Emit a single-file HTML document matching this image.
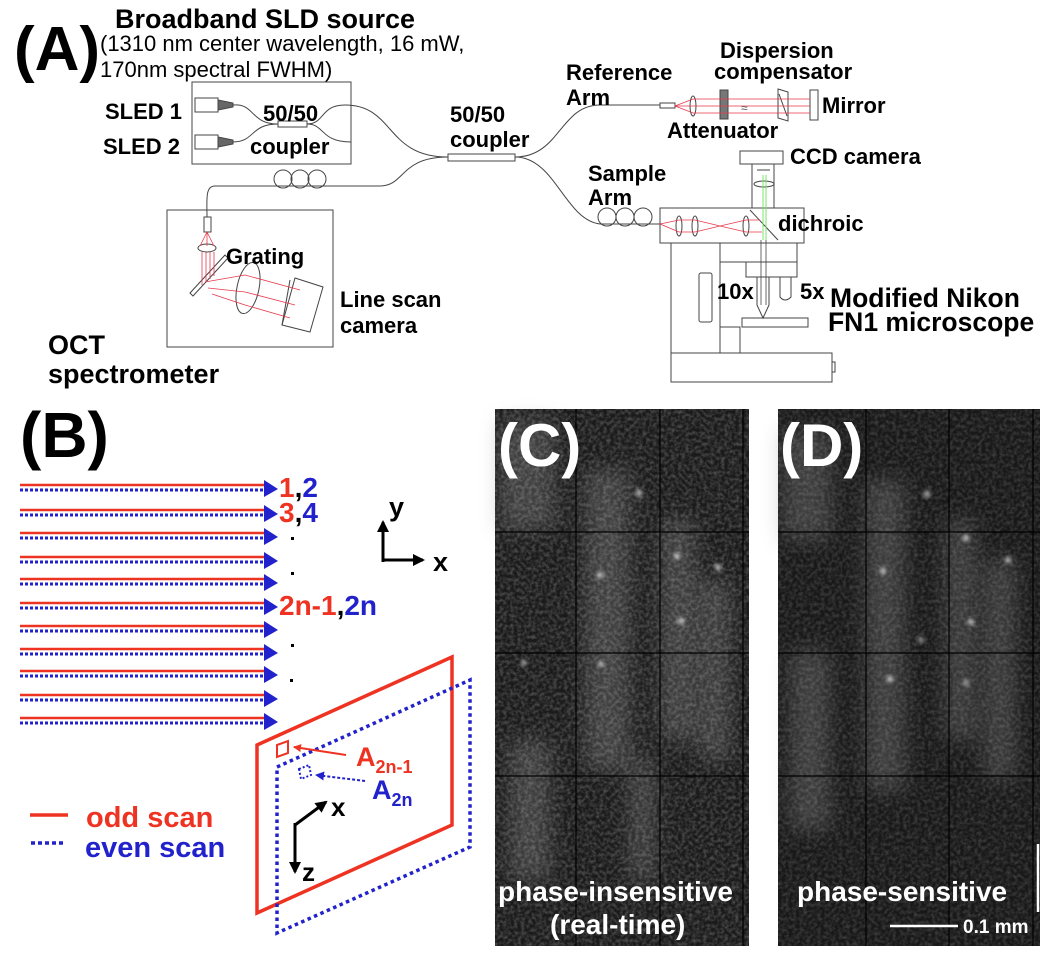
<!DOCTYPE html>
<html><head><meta charset="utf-8"><style>
html,body{margin:0;padding:0;background:#fff;}
svg{display:block;font-family:"Liberation Sans",sans-serif;}
.b{font-weight:bold;}
</style></head><body>
<svg width="1050" height="953" viewBox="0 0 1050 953" xmlns="http://www.w3.org/2000/svg">
<defs>
<filter id="noise" x="0" y="0" width="100%" height="100%">
<feTurbulence type="fractalNoise" baseFrequency="0.28" numOctaves="2" seed="5"/>
<feColorMatrix type="matrix" values="0 0 0 0 1  0 0 0 0 1  0 0 0 0 1  1.3 0 0 0 -0.45"/>
</filter>
<filter id="blur3" x="-50%" y="-50%" width="200%" height="200%"><feGaussianBlur stdDeviation="10"/></filter>
<filter id="blur1" x="-100%" y="-100%" width="300%" height="300%"><feGaussianBlur stdDeviation="2"/></filter>
<marker id="rh" markerWidth="8" markerHeight="8" refX="7" refY="4" orient="auto" markerUnits="userSpaceOnUse"><path d="M0,0 L8,4 L0,8z" fill="#ee3322"/></marker>
<marker id="bh" markerWidth="9" markerHeight="9" refX="8" refY="4.5" orient="auto" markerUnits="userSpaceOnUse"><path d="M0,0 L9,4.5 L0,9z" fill="#2222cc"/></marker>
<marker id="kh" markerWidth="12" markerHeight="12" refX="10" refY="6" orient="auto" markerUnits="userSpaceOnUse"><path d="M0,0 L12,6 L0,12z" fill="#000"/></marker>
</defs>

<!-- ===== Panel A ===== -->
<text x="14" y="70" class="b" font-size="62">(A)</text>
<text x="115" y="28" class="b" font-size="27">Broadband SLD source</text>
<text x="100" y="51" font-size="22">(1310 nm center wavelength, 16 mW,</text>
<text x="100" y="77" font-size="22">170nm spectral FWHM)</text>

<g fill="none" stroke="#444" stroke-width="1">
<rect x="192" y="82" width="159" height="82"/>
<rect x="195" y="98" width="23" height="14"/>
<rect x="195" y="135" width="23" height="14"/>
<path d="M218,100 L233,103 L233,107 L218,110z" fill="#666"/>
<path d="M218,137 L233,140 L233,144 L218,147z" fill="#666"/>
<rect x="278" y="121" width="29" height="6"/>
<path d="M233,105 C255,103 250,124 278,124"/>
<path d="M233,142 C255,142 250,124 278,124"/>
<path d="M307,124 C325,124 320,105 345,105 C395,105 385,157 448,157"/>
<path d="M307,124 C325,124 320,142 351,142"/>
<rect x="448" y="154" width="67" height="7"/>
<path d="M448,157 C400,157 405,186 380,186 L215,186 C205,186 207,200 207,217"/>
<circle cx="283" cy="179" r="9"/><circle cx="300" cy="179" r="9"/><circle cx="317" cy="179" r="9"/>
<rect x="167" y="210" width="166" height="137"/>
<rect x="204" y="217" width="7" height="15"/>
<ellipse cx="207" cy="248" rx="9" ry="4"/>
<path d="M190,293 L225,255 L228,258 L193,296z"/>
<ellipse cx="248" cy="288" rx="11" ry="26" transform="rotate(12 248 288)"/>
<path d="M295,278 L323,287 L310,332 L282,325z"/>
<path d="M290,280 L282,325"/>
<path d="M515,157 C560,157 560,105 600,105 L660,105"/>
<rect x="660" y="103" width="15" height="5"/>
<ellipse cx="693" cy="106" rx="3" ry="10"/>
<rect x="720" y="90" width="8" height="29" fill="#777"/>
<path d="M778,89 L788,92 L788,121 L778,118z"/><path d="M779,94 L787,116"/>
<rect x="810" y="90" width="8" height="30"/>
<path d="M515,157 C555,157 565,220 600,224 L660,224"/>
<circle cx="607" cy="217" r="9"/><circle cx="625" cy="217" r="9"/><circle cx="643" cy="217" r="9"/>
<rect x="740" y="151" width="43" height="13"/>
<path d="M752,164 L752,208 M774,164 L774,208 M757,170 L770,170"/>
<ellipse cx="764" cy="184" rx="10" ry="3"/>
<rect x="660" y="208" width="144" height="35"/>
<ellipse cx="679" cy="226" rx="3" ry="10"/><ellipse cx="695" cy="226" rx="3" ry="10"/><ellipse cx="746" cy="226" rx="3" ry="10"/>
<path d="M750,210 L778,240"/>
<path d="M671,243 L671,353 M720,243 L720,353 M720,243 L797,243 L797,262 L720,262 M746,262 L746,277 L797,277 L797,262"/>
<path d="M757,277 L757,305 L763,318 L769,305 L769,277"/>
<path d="M780,277 L780,297 Q785,303 791,297 L791,277"/>
<rect x="742" y="318" width="66" height="9"/>
<rect x="699" y="273" width="13" height="49" rx="2"/>
<path d="M720,327 L740,327 L740,353"/>
<rect x="671" y="353" width="161" height="29"/>
<rect x="832" y="362" width="3" height="10"/>
</g>
<g stroke="#e8384a" stroke-width="0.8" fill="none">
<path d="M207,232 L200,246 M207,232 L207,246 M207,232 L214,246"/>
<path d="M202,252 L202,285 M206,252 L206,282 M210,252 L210,279 M214,252 L214,276"/>
<path d="M205,282 L245,275 L300,290 M208,288 L245,292 L295,305 M212,294 L245,305 L290,318"/>
<path d="M675,106 L693,99 L810,99 M675,106 L693,106 L810,106 M675,106 L693,113 L810,113"/>
<path d="M660,224 L679,220 L695,220 L720,226 L746,220 L760,220 M660,224 L679,232 L695,232 L720,226 L746,232 L762,232"/>
</g>
<path d="M763,175 L763,240 M766,175 L766,240" stroke="#7ce070" stroke-width="1"/>
<path d="M761,240 L761,305 M766,240 L766,305" stroke="#444" stroke-width="0.8"/>
<text x="741" y="112" font-size="12" fill="#555">≈</text>

<g class="b" font-size="22">
<text x="105" y="119">SLED 1</text>
<text x="103" y="154">SLED 2</text>
<text x="263" y="121">50/50</text>
<text x="250" y="154">coupler</text>
<text x="450" y="122">50/50</text>
<text x="450" y="147">coupler</text>
<text x="226" y="264">Grating</text>
<text x="340" y="307">Line scan</text>
<text x="340" y="333">camera</text>
<text x="48" y="354" font-size="27">OCT</text>
<text x="48" y="383" font-size="27">spectrometer</text>
<text x="566" y="80">Reference</text>
<text x="566" y="105">Arm</text>
<text x="720" y="58">Dispersion</text>
<text x="714" y="79">compensator</text>
<text x="822" y="113">Mirror</text>
<text x="667" y="138">Attenuator</text>
<text x="790" y="164">CCD camera</text>
<text x="588" y="181">Sample</text>
<text x="588" y="205">Arm</text>
<text x="778" y="231">dichroic</text>
<text x="717" y="299">10x</text>
<text x="800" y="299">5x</text>
<text x="830" y="307" font-size="26.5">Modified Nikon</text>
<text x="828" y="331" font-size="26.5">FN1 microscope</text>
</g>

<!-- ===== Panel B ===== -->
<text x="20" y="457" class="b" font-size="64">(B)</text>
<path d="M20,485 H268 M20,510 H268 M20,533 H268 M20,557 H268 M20,579 H268 M20,603 H268 M20,626 H268 M20,649 H268 M20,671 H268 M20,695 H268 M20,718 H268" stroke="#ee3322" stroke-width="2.5"/>
<path d="M20,490 H268 M20,515 H268 M20,538 H268 M20,562 H268 M20,584 H268 M20,608 H268 M20,631 H268 M20,654 H268 M20,676 H268 M20,700 H268 M20,723 H268" stroke="#2222cc" stroke-width="3" stroke-dasharray="3,2"/>
<g fill="#2222cc">
<path d="M264,480 L278,489 L264,497z M264,505 L278,514 L264,522z M264,528 L278,537 L264,545z M264,552 L278,561 L264,569z M264,574 L278,583 L264,591z M264,598 L278,607 L264,615z M264,621 L278,630 L264,638z M264,644 L278,653 L264,661z M264,666 L278,675 L264,683z M264,690 L278,699 L264,707z M264,713 L278,722 L264,730z"/>
</g>
<g class="b" font-size="28">
<text x="279" y="497"><tspan fill="#ee3322">1</tspan>,<tspan fill="#2222cc">2</tspan></text>
<text x="279" y="522"><tspan fill="#ee3322">3</tspan>,<tspan fill="#2222cc">4</tspan></text>
<text x="279" y="615"><tspan fill="#ee3322">2n-1</tspan>,<tspan fill="#2222cc">2n</tspan></text>
</g>
<g fill="#000"><rect x="291" y="537" width="3" height="3"/><rect x="291" y="572" width="3" height="3"/><rect x="291" y="644" width="3" height="3"/><rect x="290" y="679" width="3" height="3"/></g>
<path d="M383,560 L423,560" stroke="#000" stroke-width="3" fill="none" marker-end="url(#kh)"/>
<path d="M383,562 L383,522" stroke="#000" stroke-width="3" marker-end="url(#kh)"/>
<text x="389" y="516" class="b" font-size="27">y</text>
<text x="433" y="571" class="b" font-size="27">x</text>

<path d="M257,745 L452,657 L452,825 L257,913z" fill="none" stroke="#ee3322" stroke-width="3.5"/>
<path d="M277,767 L470,680 L470,847 L277,933z" fill="none" stroke="#2222cc" stroke-width="3.5" stroke-dasharray="3.5,3.5"/>
<path d="M277,745 L288,741 L288,753 L277,757z" fill="none" stroke="#ee3322" stroke-width="2"/>
<path d="M299,769 L309,765 L311,775 L301,779z" fill="none" stroke="#2222cc" stroke-width="2" stroke-dasharray="2,2"/>
<path d="M346,755 L294,747" stroke="#ee3322" stroke-width="2" marker-end="url(#rh)"/>
<path d="M365,781 L316,775" stroke="#2222cc" stroke-width="2" stroke-dasharray="3,2" marker-end="url(#bh)"/>
<text x="356" y="766" class="b" font-size="27" fill="#ee3322">A<tspan font-size="18" dy="7">2n-1</tspan></text>
<text x="372" y="799" class="b" font-size="27" fill="#2222cc">A<tspan font-size="18" dy="7">2n</tspan></text>
<path d="M295,825 L326,802" stroke="#000" stroke-width="3" marker-end="url(#kh)"/>
<path d="M295,823 L295,872" stroke="#000" stroke-width="3" marker-end="url(#kh)"/>
<text x="331" y="816" class="b" font-size="26">x</text>
<text x="302" y="881" class="b" font-size="26">z</text>
<path d="M30,815 H68" stroke="#ee3322" stroke-width="3.5"/>
<path d="M31,843 H66" stroke="#2222cc" stroke-width="3.5" stroke-dasharray="4,3"/>
<text x="86" y="827" class="b" font-size="29" fill="#ee3322">odd scan</text>
<text x="85" y="857" class="b" font-size="29" fill="#2222cc">even scan</text>

<!-- ===== Panel C ===== -->
<g>
<rect x="495" y="409" width="254" height="537" fill="#1a1a1a"/>
<g filter="url(#blur3)" fill="#7a7a7a" opacity="0.4">
<rect x="500" y="420" width="55" height="110"/>
<rect x="585" y="470" width="45" height="300"/>
<rect x="660" y="520" width="35" height="220"/>
<rect x="700" y="580" width="30" height="180"/>
<rect x="510" y="740" width="40" height="140"/>
<rect x="630" y="760" width="25" height="120"/>
</g>
<rect x="495" y="409" width="254" height="537" fill="#000" filter="url(#noise)" opacity="0.35"/>
<g fill="#fff" filter="url(#blur1)" opacity="0.85">
<circle cx="639" cy="493" r="3"/><circle cx="677" cy="556" r="3"/><circle cx="681" cy="621" r="3"/><circle cx="718" cy="567" r="3"/><circle cx="600" cy="575" r="3"/><circle cx="601" cy="664" r="2.5"/><circle cx="524" cy="663" r="2.5"/>
</g>
<g stroke="#000" stroke-width="1.2">
<path d="M576,409 V946 M660,409 V946 M743,409 V946 M495,532 H749 M495,653 H749 M495,776 H749"/>
</g>
<text x="498" y="466" class="b" font-size="60" fill="#fff">(C)</text>
<text x="498" y="901" class="b" font-size="28" fill="#fff">phase-insensitive</text>
<text x="550" y="934" class="b" font-size="28" fill="#fff">(real-time)</text>
</g>

<!-- ===== Panel D ===== -->
<g>
<rect x="778" y="409" width="262" height="537" fill="#181818"/>
<g filter="url(#blur3)" fill="#7a7a7a" opacity="0.38">
<rect x="782" y="430" width="50" height="110"/>
<rect x="865" y="480" width="40" height="310"/>
<rect x="945" y="520" width="30" height="220"/>
<rect x="985" y="560" width="30" height="220"/>
<rect x="790" y="650" width="40" height="180"/>
</g>
<rect x="778" y="409" width="262" height="537" fill="#000" filter="url(#noise)" opacity="0.25"/>
<g fill="#fff" filter="url(#blur1)" opacity="0.8">
<circle cx="927" cy="494" r="3"/><circle cx="966" cy="538" r="3"/><circle cx="1008" cy="560" r="3"/><circle cx="883" cy="571" r="3"/><circle cx="971" cy="622" r="3"/><circle cx="921" cy="640" r="2.5"/><circle cx="890" cy="679" r="3"/><circle cx="966" cy="683" r="2.5"/>
</g>
<g stroke="#000" stroke-width="1.2">
<path d="M866,409 V946 M949,409 V946 M1033,409 V946 M778,532 H1040 M778,653 H1040 M778,776 H1040"/>
</g>
<text x="780" y="466" class="b" font-size="60" fill="#fff">(D)</text>
<text x="797" y="901" class="b" font-size="28" fill="#fff">phase-sensitive</text>
<path d="M1038,844 V912 M890,926 H958" stroke="#fff" stroke-width="2.5"/>
<text x="963" y="933" class="b" font-size="19" fill="#fff">0.1 mm</text>
</g>
</svg>
</body></html>
